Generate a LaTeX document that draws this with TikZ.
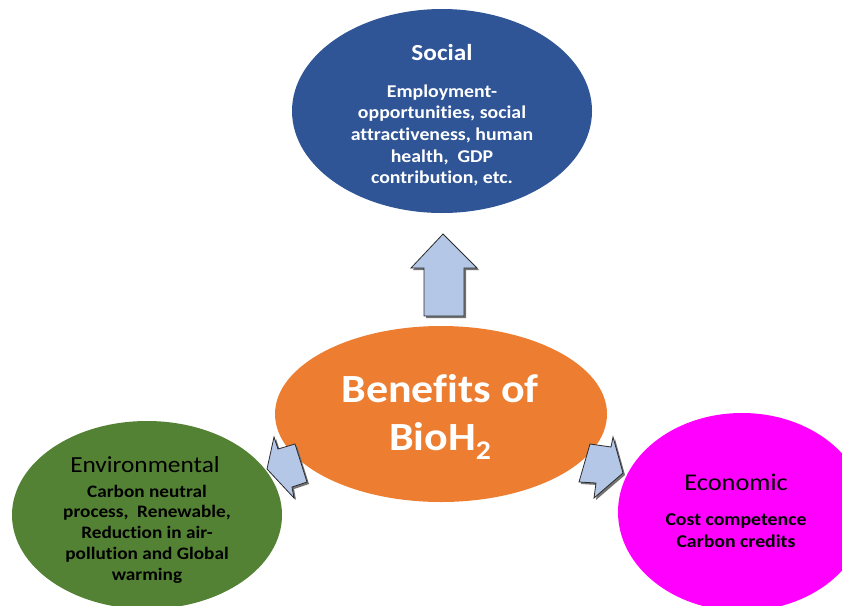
\documentclass[tikz,border=0pt]{standalone}
\usepackage{fontspec}
\setmainfont{Carlito}[FakeStretch=1.1,Ligatures=NoCommon]
\usetikzlibrary{shapes.geometric}
\definecolor{socialblue}{HTML}{2F5597}
\definecolor{benorange}{HTML}{ED7D31}
\definecolor{envgreen}{HTML}{548235}
\definecolor{ecomag}{HTML}{FF00FF}
\definecolor{arrowblue}{HTML}{B4C7E7}
\definecolor{arrowline}{HTML}{2B2B2B}
\begin{document}
\begin{tikzpicture}[x=1pt,y=-1pt,
  blob/.style={ellipse, draw=none, inner sep=0pt},
  blockarrow/.style={fill=arrowblue, draw=arrowline, line width=0.8pt, line join=miter},
  arrowshadow/.style={fill=black!55, draw=none},
  bodyline/.style={anchor=base, inner sep=0pt, font=\fontsize{18}{21}\selectfont\bfseries},
  titleline/.style={anchor=base, inner sep=0pt}
]
\useasboundingbox (0,0) rectangle (842,605);
\clip (0,0) rectangle (842,605);
\fill[white] (0,0) rectangle (842,605);

% ellipses
\node[blob, fill=socialblue, minimum width=300pt, minimum height=204pt] (social) at (442,111) {};
\node[blob, fill=benorange, minimum width=332pt, minimum height=176pt] (benefits) at (441,414) {};
\node[blob, fill=envgreen, minimum width=270pt, minimum height=188pt] (env) at (147,515) {};
\node[blob, fill=ecomag, minimum width=248pt, minimum height=198pt] (eco) at (742,512) {};

% arrows: shadows then bodies
\begin{scope}[shift={(2,2)}]
\fill[arrowshadow] (443,234) -- (477,268) -- (464,268) -- (464,316) -- (424,316) -- (424,268) -- (411,268) -- cycle;
\fill[arrowshadow] (274,437) -- (267,469) -- (294,498) -- (292,487) -- (307,482) -- (295,444) -- (278,449) -- cycle;
\fill[arrowshadow] (590,444) -- (611,447) -- (613,437) -- (623,473) -- (594,498) -- (596,483) -- (579,482) -- cycle;
\end{scope}
\draw[blockarrow] (443,234) -- (477,268) -- (464,268) -- (464,316) -- (424,316) -- (424,268) -- (411,268) -- cycle;
\draw[blockarrow] (274,437) -- (267,469) -- (294,498) -- (292,487) -- (307,482) -- (295,444) -- (278,449) -- cycle;
\draw[blockarrow] (590,444) -- (611,447) -- (613,437) -- (623,473) -- (594,498) -- (596,483) -- (579,482) -- cycle;

% Social text
\node[titleline, text=white, font=\fontsize{23}{27}\selectfont\bfseries] (socialtitle) at (442,60) {Social};
\foreach \t [count=\i] in {Employment-,{opportunities, social},{attractiveness, human},{health,\ \ GDP},{contribution, etc.}}
  \node[bodyline, text=white] (sl\i) at (442,{97+21.7*(\i-1)}) {\t};

% Benefits text
\node[titleline, text=white, font=\fontsize{40}{46}\selectfont\bfseries] (bentitle) at (440,402) {Benefits of};
\node[titleline, text=white, font=\fontsize{40}{46}\selectfont\bfseries] (benbio) at (440,450) {BioH\raisebox{-9pt}{\fontsize{27}{30}\selectfont 2}};

% Environmental text
\node[titleline, text=black, font=\fontsize{23}{27}\selectfont] (envtitle) at (145,472) {Environmental};
\foreach \t [count=\i] in {Carbon neutral,{process,\ \ Renewable,},{Reduction in air-},{pollution and Global},warming}
  \node[bodyline, text=black, font=\fontsize{17.5}{21}\selectfont\bfseries] (el\i) at (147,{497+20.8*(\i-1)}) {\t};

% Economic text
\node[titleline, text=black, font=\fontsize{24}{28}\selectfont] (ecotitle) at (736,490) {Economic};
\node[bodyline, text=black] (ec1) at (736,525) {Cost competence};
\node[bodyline, text=black] (ec2) at (736,547) {Carbon credits};
\end{tikzpicture}
\end{document}
